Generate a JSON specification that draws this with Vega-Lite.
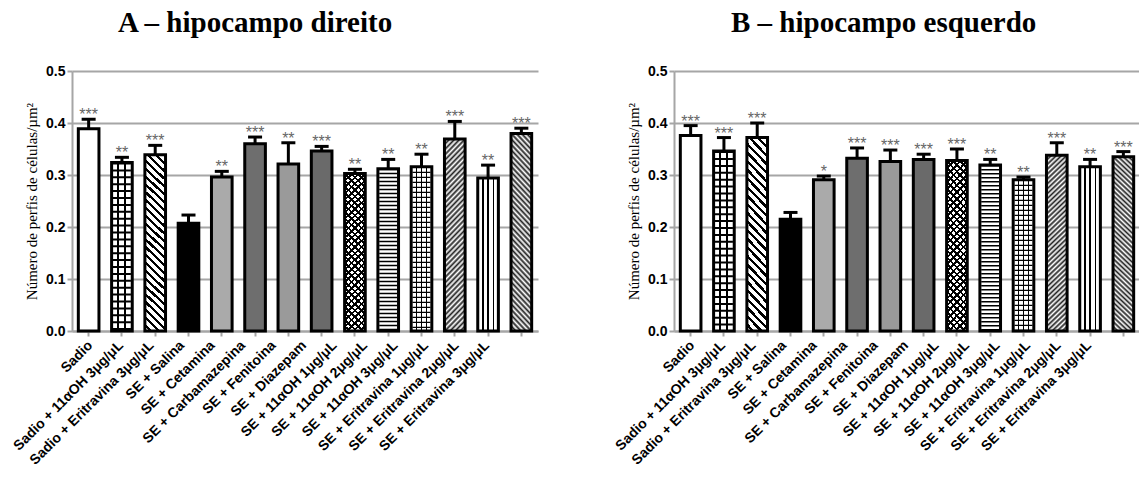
{
"$schema":"https://vega.github.io/schema/vega-lite/v6.json",
"padding":{"left":10,"right":0,"top":9,"bottom":0},
"background":"white",
"data":{"values":[
{"p":"A","g":"Sadio","v":0.389,"hi":0.407,"s":"***"},
{"p":"A","g":"Sadio + 11αOH 3μg/μL","v":0.324,"hi":0.334,"s":"**"},
{"p":"A","g":"Sadio + Eritravina 3μg/μL","v":0.339,"hi":0.357,"s":"***"},
{"p":"A","g":"SE + Salina","v":0.207,"hi":0.223,"s":""},
{"p":"A","g":"SE + Cetamina","v":0.296,"hi":0.307,"s":"**"},
{"p":"A","g":"SE + Carbamazepina","v":0.360,"hi":0.373,"s":"***"},
{"p":"A","g":"SE + Fenitoina","v":0.321,"hi":0.362,"s":"**"},
{"p":"A","g":"SE + Diazepam","v":0.346,"hi":0.355,"s":"***"},
{"p":"A","g":"SE + 11αOH 1μg/μL","v":0.303,"hi":0.311,"s":"**"},
{"p":"A","g":"SE + 11αOH 2μg/μL","v":0.312,"hi":0.330,"s":"**"},
{"p":"A","g":"SE + 11αOH 3μg/μL","v":0.316,"hi":0.340,"s":"**"},
{"p":"A","g":"SE + Eritravina 1μg/μL","v":0.369,"hi":0.403,"s":"***"},
{"p":"A","g":"SE + Eritravina 2μg/μL","v":0.294,"hi":0.319,"s":"**"},
{"p":"A","g":"SE + Eritravina 3μg/μL","v":0.380,"hi":0.390,"s":"***"},
{"p":"B","g":"Sadio","v":0.376,"hi":0.395,"s":"***"},
{"p":"B","g":"Sadio + 11αOH 3μg/μL","v":0.346,"hi":0.372,"s":"***"},
{"p":"B","g":"Sadio + Eritravina 3μg/μL","v":0.372,"hi":0.400,"s":"***"},
{"p":"B","g":"SE + Salina","v":0.215,"hi":0.228,"s":""},
{"p":"B","g":"SE + Cetamina","v":0.291,"hi":0.298,"s":"*"},
{"p":"B","g":"SE + Carbamazepina","v":0.332,"hi":0.352,"s":"***"},
{"p":"B","g":"SE + Fenitoina","v":0.326,"hi":0.348,"s":"***"},
{"p":"B","g":"SE + Diazepam","v":0.330,"hi":0.340,"s":"***"},
{"p":"B","g":"SE + 11αOH 1μg/μL","v":0.328,"hi":0.350,"s":"***"},
{"p":"B","g":"SE + 11αOH 2μg/μL","v":0.319,"hi":0.330,"s":"**"},
{"p":"B","g":"SE + 11αOH 3μg/μL","v":0.291,"hi":0.296,"s":"**"},
{"p":"B","g":"SE + Eritravina 1μg/μL","v":0.338,"hi":0.362,"s":"***"},
{"p":"B","g":"SE + Eritravina 2μg/μL","v":0.316,"hi":0.330,"s":"**"},
{"p":"B","g":"SE + Eritravina 3μg/μL","v":0.335,"hi":0.345,"s":"***"}
]},
"spacing":136,
"bounds":"flush",
"hconcat":[
{"transform":[{"filter":"datum.p === 'A'"}],
"title":{"text":"A – hipocampo direito","dx":46},
"width":466,"height":260,
"encoding":{"x":{"field":"g","type":"nominal","sort":null,"title":null,"scale":{"paddingInner":0.38,"paddingOuter":0.19},"axis":{"labelOffset":{"expr":"-3 - 36*datum.index"}}}},
"layer":[
{"mark":{"type":"bar"},"encoding":{"y":{"field":"v","type":"quantitative","stack":null,"scale":{"domain":[0,0.5],"nice":false},"axis":{"title":"Número de perfis de células/µm²","values":[0,0.1,0.2,0.3,0.4,0.5],"format":".1f","grid":true}},
"color":{"field":"g","type":"nominal","legend":null,"scale":{"domain":["Sadio","Sadio + 11αOH 3μg/μL","Sadio + Eritravina 3μg/μL","SE + Salina","SE + Cetamina","SE + Carbamazepina","SE + Fenitoina","SE + Diazepam","SE + 11αOH 1μg/μL","SE + 11αOH 2μg/μL","SE + 11αOH 3μg/μL","SE + Eritravina 1μg/μL","SE + Eritravina 2μg/μL","SE + Eritravina 3μg/μL"],"range":["#fff","#fff","#fff","#000","#aaaaaa","#6e6e6e","#9a9a9a","#6a6a6a","#fff","#fff","#fff","#fff","#fff","#fff"]}}}},
{"transform":[{"filter":"datum.g === 'Sadio + 11αOH 3μg/μL'"}],"mark":{"type":"bar","style":"gV3"},"encoding":{"y":{"field":"v","type":"quantitative"}}},
{"transform":[{"filter":{"field":"g","oneOf":["SE + 11αOH 3μg/μL","SE + Eritravina 2μg/μL"]}}],"mark":{"type":"bar","style":"gV4"},"encoding":{"y":{"field":"v","type":"quantitative"}}},
{"transform":[{"filter":"datum.g === 'Sadio + Eritravina 3μg/μL'"}],"mark":{"type":"bar","style":"gD"},"encoding":{"y":{"field":"v","type":"quantitative"}}},
{"transform":[{"filter":"datum.g === 'SE + 11αOH 1μg/μL'"}],"mark":{"type":"bar","style":"gX1"},"encoding":{"y":{"field":"v","type":"quantitative"}}},
{"transform":[{"filter":"datum.g === 'SE + 11αOH 1μg/μL'"}],"mark":{"type":"bar","style":"gX2"},"encoding":{"y":{"field":"v","type":"quantitative"}}},
{"transform":[{"filter":"datum.g === 'SE + Eritravina 1μg/μL'"}],"mark":{"type":"bar","style":"gF1"},"encoding":{"y":{"field":"v","type":"quantitative"}}},
{"transform":[{"filter":"datum.g === 'SE + Eritravina 3μg/μL'"}],"mark":{"type":"bar","style":"gF3"},"encoding":{"y":{"field":"v","type":"quantitative"}}},
{"transform":[{"filter":{"field":"g","oneOf":["Sadio + 11αOH 3μg/μL","SE + 11αOH 2μg/μL","SE + 11αOH 3μg/μL"]}}],"mark":{"type":"rule","strokeWidth":18,"color":"#000"},"encoding":{"y":{"field":"v","type":"quantitative"},"y2":{"datum":0},"strokeDash":{"field":"g","type":"nominal","legend":null,"scale":{"domain":["Sadio + 11αOH 3μg/μL","SE + 11αOH 2μg/μL","SE + 11αOH 3μg/μL"],"range":[[2,4.9],[1.5,2.5],[1.2,3.8]]}}}},
{"mark":{"type":"bar","filled":false,"stroke":"#000","strokeWidth":3,"opacity":1},"encoding":{"y":{"field":"v","type":"quantitative"}}},
{"mark":{"type":"rule","strokeWidth":3,"color":"#000"},"encoding":{"y":{"field":"v","type":"quantitative"},"y2":{"field":"hi"}}},
{"mark":{"type":"tick","orient":"horizontal","size":14,"thickness":3,"color":"#000","opacity":1},"encoding":{"y":{"field":"hi","type":"quantitative"}}},
{"mark":{"type":"text","font":"Liberation Sans","fontSize":16,"color":"#666","baseline":"alphabetic","dy":1},"encoding":{"y":{"field":"hi","type":"quantitative"},"text":{"field":"s"}}}
]},
{"transform":[{"filter":"datum.p === 'B'"}],
"title":{"text":"B – hipocampo esquerdo","dx":57},
"width":466,"height":260,
"encoding":{"x":{"field":"g","type":"nominal","sort":null,"title":null,"scale":{"paddingInner":0.38,"paddingOuter":0.19},"axis":{"labelOffset":{"expr":"-3 - 36*datum.index"}}}},
"layer":[
{"mark":{"type":"bar"},"encoding":{"y":{"field":"v","type":"quantitative","stack":null,"scale":{"domain":[0,0.5],"nice":false},"axis":{"title":"Número de perfis de células/µm²","values":[0,0.1,0.2,0.3,0.4,0.5],"format":".1f","grid":true}},
"color":{"field":"g","type":"nominal","legend":null,"scale":{"domain":["Sadio","Sadio + 11αOH 3μg/μL","Sadio + Eritravina 3μg/μL","SE + Salina","SE + Cetamina","SE + Carbamazepina","SE + Fenitoina","SE + Diazepam","SE + 11αOH 1μg/μL","SE + 11αOH 2μg/μL","SE + 11αOH 3μg/μL","SE + Eritravina 1μg/μL","SE + Eritravina 2μg/μL","SE + Eritravina 3μg/μL"],"range":["#fff","#fff","#fff","#000","#aaaaaa","#6e6e6e","#9a9a9a","#6a6a6a","#fff","#fff","#fff","#fff","#fff","#fff"]}}}},
{"transform":[{"filter":"datum.g === 'Sadio + 11αOH 3μg/μL'"}],"mark":{"type":"bar","style":"gV3"},"encoding":{"y":{"field":"v","type":"quantitative"}}},
{"transform":[{"filter":{"field":"g","oneOf":["SE + 11αOH 3μg/μL","SE + Eritravina 2μg/μL"]}}],"mark":{"type":"bar","style":"gV4"},"encoding":{"y":{"field":"v","type":"quantitative"}}},
{"transform":[{"filter":"datum.g === 'Sadio + Eritravina 3μg/μL'"}],"mark":{"type":"bar","style":"gD"},"encoding":{"y":{"field":"v","type":"quantitative"}}},
{"transform":[{"filter":"datum.g === 'SE + 11αOH 1μg/μL'"}],"mark":{"type":"bar","style":"gX1"},"encoding":{"y":{"field":"v","type":"quantitative"}}},
{"transform":[{"filter":"datum.g === 'SE + 11αOH 1μg/μL'"}],"mark":{"type":"bar","style":"gX2"},"encoding":{"y":{"field":"v","type":"quantitative"}}},
{"transform":[{"filter":"datum.g === 'SE + Eritravina 1μg/μL'"}],"mark":{"type":"bar","style":"gF1"},"encoding":{"y":{"field":"v","type":"quantitative"}}},
{"transform":[{"filter":"datum.g === 'SE + Eritravina 3μg/μL'"}],"mark":{"type":"bar","style":"gF3"},"encoding":{"y":{"field":"v","type":"quantitative"}}},
{"transform":[{"filter":{"field":"g","oneOf":["Sadio + 11αOH 3μg/μL","SE + 11αOH 2μg/μL","SE + 11αOH 3μg/μL"]}}],"mark":{"type":"rule","strokeWidth":18,"color":"#000"},"encoding":{"y":{"field":"v","type":"quantitative"},"y2":{"datum":0},"strokeDash":{"field":"g","type":"nominal","legend":null,"scale":{"domain":["Sadio + 11αOH 3μg/μL","SE + 11αOH 2μg/μL","SE + 11αOH 3μg/μL"],"range":[[2,4.9],[1.5,2.5],[1.2,3.8]]}}}},
{"mark":{"type":"bar","filled":false,"stroke":"#000","strokeWidth":3,"opacity":1},"encoding":{"y":{"field":"v","type":"quantitative"}}},
{"mark":{"type":"rule","strokeWidth":3,"color":"#000"},"encoding":{"y":{"field":"v","type":"quantitative"},"y2":{"field":"hi"}}},
{"mark":{"type":"tick","orient":"horizontal","size":14,"thickness":3,"color":"#000","opacity":1},"encoding":{"y":{"field":"hi","type":"quantitative"}}},
{"mark":{"type":"text","font":"Liberation Sans","fontSize":16,"color":"#666","baseline":"alphabetic","dy":1},"encoding":{"y":{"field":"hi","type":"quantitative"},"text":{"field":"s"}}}
]}
],
"config":{
"view":{"stroke":null},
"title":{"font":"Liberation Serif","fontSize":29,"fontWeight":"bold","color":"#000","anchor":"start","frame":"group","baseline":"alphabetic","offset":26},
"axis":{"domainColor":"#a6a6a6","domainWidth":2,"tickColor":"#a6a6a6","tickWidth":2,"tickSize":5,"gridColor":"#a6a6a6","gridWidth":2,"labelFont":"Liberation Sans","labelFontWeight":"bold","labelColor":"#000","titleFont":"Liberation Serif","titleFontWeight":"normal","titleColor":"#000"},
"axisX":{"labelAngle":-45,"labelFontSize":14,"labelLimit":400,"grid":false},
"axisY":{"labelFontSize":14,"titleFontSize":15,"titlePadding":6},
"style":{
"gV3":{"color":{"gradient":"linear","x1":0,"y1":0,"x2":1,"y2":0,"stops":[{"offset":0,"color":"#fff"},{"offset":0.28,"color":"#fff"},{"offset":0.28,"color":"#000"},{"offset":0.38,"color":"#000"},{"offset":0.38,"color":"#fff"},{"offset":0.62,"color":"#fff"},{"offset":0.62,"color":"#000"},{"offset":0.72,"color":"#000"},{"offset":0.72,"color":"#fff"},{"offset":1,"color":"#fff"}]}},
"gV4":{"color":{"gradient":"linear","x1":0,"y1":0,"x2":1,"y2":0,"stops":[{"offset":0,"color":"#fff"},{"offset":0.22,"color":"#fff"},{"offset":0.22,"color":"#000"},{"offset":0.28,"color":"#000"},{"offset":0.28,"color":"#fff"},{"offset":0.47,"color":"#fff"},{"offset":0.47,"color":"#000"},{"offset":0.53,"color":"#000"},{"offset":0.53,"color":"#fff"},{"offset":0.72,"color":"#fff"},{"offset":0.72,"color":"#000"},{"offset":0.78,"color":"#000"},{"offset":0.78,"color":"#fff"},{"offset":1,"color":"#fff"}]}},
"gD":{"color":{"gradient":"linear","x1":1,"y1":0,"x2":0.877,"y2":1.1,"stops":[
{"offset":0,"color":"#000"},{"offset":0.016,"color":"#000"},{"offset":0.016,"color":"#fff"},{"offset":0.04,"color":"#fff"},
{"offset":0.04,"color":"#000"},{"offset":0.056,"color":"#000"},{"offset":0.056,"color":"#fff"},{"offset":0.08,"color":"#fff"},
{"offset":0.08,"color":"#000"},{"offset":0.096,"color":"#000"},{"offset":0.096,"color":"#fff"},{"offset":0.12,"color":"#fff"},
{"offset":0.12,"color":"#000"},{"offset":0.136,"color":"#000"},{"offset":0.136,"color":"#fff"},{"offset":0.16,"color":"#fff"},
{"offset":0.16,"color":"#000"},{"offset":0.176,"color":"#000"},{"offset":0.176,"color":"#fff"},{"offset":0.2,"color":"#fff"},
{"offset":0.2,"color":"#000"},{"offset":0.216,"color":"#000"},{"offset":0.216,"color":"#fff"},{"offset":0.24,"color":"#fff"},
{"offset":0.24,"color":"#000"},{"offset":0.256,"color":"#000"},{"offset":0.256,"color":"#fff"},{"offset":0.28,"color":"#fff"},
{"offset":0.28,"color":"#000"},{"offset":0.296,"color":"#000"},{"offset":0.296,"color":"#fff"},{"offset":0.32,"color":"#fff"},
{"offset":0.32,"color":"#000"},{"offset":0.336,"color":"#000"},{"offset":0.336,"color":"#fff"},{"offset":0.36,"color":"#fff"},
{"offset":0.36,"color":"#000"},{"offset":0.376,"color":"#000"},{"offset":0.376,"color":"#fff"},{"offset":0.4,"color":"#fff"},
{"offset":0.4,"color":"#000"},{"offset":0.416,"color":"#000"},{"offset":0.416,"color":"#fff"},{"offset":0.44,"color":"#fff"},
{"offset":0.44,"color":"#000"},{"offset":0.456,"color":"#000"},{"offset":0.456,"color":"#fff"},{"offset":0.48,"color":"#fff"},
{"offset":0.48,"color":"#000"},{"offset":0.496,"color":"#000"},{"offset":0.496,"color":"#fff"},{"offset":0.52,"color":"#fff"},
{"offset":0.52,"color":"#000"},{"offset":0.536,"color":"#000"},{"offset":0.536,"color":"#fff"},{"offset":0.56,"color":"#fff"},
{"offset":0.56,"color":"#000"},{"offset":0.576,"color":"#000"},{"offset":0.576,"color":"#fff"},{"offset":0.6,"color":"#fff"},
{"offset":0.6,"color":"#000"},{"offset":0.616,"color":"#000"},{"offset":0.616,"color":"#fff"},{"offset":0.64,"color":"#fff"},
{"offset":0.64,"color":"#000"},{"offset":0.656,"color":"#000"},{"offset":0.656,"color":"#fff"},{"offset":0.68,"color":"#fff"},
{"offset":0.68,"color":"#000"},{"offset":0.696,"color":"#000"},{"offset":0.696,"color":"#fff"},{"offset":0.72,"color":"#fff"},
{"offset":0.72,"color":"#000"},{"offset":0.736,"color":"#000"},{"offset":0.736,"color":"#fff"},{"offset":0.76,"color":"#fff"},
{"offset":0.76,"color":"#000"},{"offset":0.776,"color":"#000"},{"offset":0.776,"color":"#fff"},{"offset":0.8,"color":"#fff"},
{"offset":0.8,"color":"#000"},{"offset":0.816,"color":"#000"},{"offset":0.816,"color":"#fff"},{"offset":0.84,"color":"#fff"},
{"offset":0.84,"color":"#000"},{"offset":0.856,"color":"#000"},{"offset":0.856,"color":"#fff"},{"offset":0.88,"color":"#fff"},
{"offset":0.88,"color":"#000"},{"offset":0.896,"color":"#000"},{"offset":0.896,"color":"#fff"},{"offset":0.92,"color":"#fff"},
{"offset":0.92,"color":"#000"},{"offset":0.936,"color":"#000"},{"offset":0.936,"color":"#fff"},{"offset":0.96,"color":"#fff"},
{"offset":0.96,"color":"#000"},{"offset":0.976,"color":"#000"},{"offset":0.976,"color":"#fff"},{"offset":1,"color":"#fff"}]}},
"gX1":{"color":{"gradient":"linear","x1":1,"y1":0,"x2":0.861,"y2":1.1,"stops":[
{"offset":0,"color":"#000"},{"offset":0.014,"color":"#000"},{"offset":0.014,"color":"#fff"},{"offset":0.036,"color":"#fff"},
{"offset":0.036,"color":"#000"},{"offset":0.05,"color":"#000"},{"offset":0.05,"color":"#fff"},{"offset":0.072,"color":"#fff"},
{"offset":0.072,"color":"#000"},{"offset":0.086,"color":"#000"},{"offset":0.086,"color":"#fff"},{"offset":0.108,"color":"#fff"},
{"offset":0.108,"color":"#000"},{"offset":0.122,"color":"#000"},{"offset":0.122,"color":"#fff"},{"offset":0.144,"color":"#fff"},
{"offset":0.144,"color":"#000"},{"offset":0.158,"color":"#000"},{"offset":0.158,"color":"#fff"},{"offset":0.18,"color":"#fff"},
{"offset":0.18,"color":"#000"},{"offset":0.194,"color":"#000"},{"offset":0.194,"color":"#fff"},{"offset":0.216,"color":"#fff"},
{"offset":0.216,"color":"#000"},{"offset":0.23,"color":"#000"},{"offset":0.23,"color":"#fff"},{"offset":0.252,"color":"#fff"},
{"offset":0.252,"color":"#000"},{"offset":0.266,"color":"#000"},{"offset":0.266,"color":"#fff"},{"offset":0.288,"color":"#fff"},
{"offset":0.288,"color":"#000"},{"offset":0.302,"color":"#000"},{"offset":0.302,"color":"#fff"},{"offset":0.324,"color":"#fff"},
{"offset":0.324,"color":"#000"},{"offset":0.338,"color":"#000"},{"offset":0.338,"color":"#fff"},{"offset":0.36,"color":"#fff"},
{"offset":0.36,"color":"#000"},{"offset":0.374,"color":"#000"},{"offset":0.374,"color":"#fff"},{"offset":0.396,"color":"#fff"},
{"offset":0.396,"color":"#000"},{"offset":0.41,"color":"#000"},{"offset":0.41,"color":"#fff"},{"offset":0.432,"color":"#fff"},
{"offset":0.432,"color":"#000"},{"offset":0.446,"color":"#000"},{"offset":0.446,"color":"#fff"},{"offset":0.468,"color":"#fff"},
{"offset":0.468,"color":"#000"},{"offset":0.482,"color":"#000"},{"offset":0.482,"color":"#fff"},{"offset":0.504,"color":"#fff"},
{"offset":0.504,"color":"#000"},{"offset":0.518,"color":"#000"},{"offset":0.518,"color":"#fff"},{"offset":0.54,"color":"#fff"},
{"offset":0.54,"color":"#000"},{"offset":0.554,"color":"#000"},{"offset":0.554,"color":"#fff"},{"offset":0.576,"color":"#fff"},
{"offset":0.576,"color":"#000"},{"offset":0.59,"color":"#000"},{"offset":0.59,"color":"#fff"},{"offset":0.612,"color":"#fff"},
{"offset":0.612,"color":"#000"},{"offset":0.626,"color":"#000"},{"offset":0.626,"color":"#fff"},{"offset":0.648,"color":"#fff"},
{"offset":0.648,"color":"#000"},{"offset":0.662,"color":"#000"},{"offset":0.662,"color":"#fff"},{"offset":0.684,"color":"#fff"},
{"offset":0.684,"color":"#000"},{"offset":0.698,"color":"#000"},{"offset":0.698,"color":"#fff"},{"offset":0.72,"color":"#fff"},
{"offset":0.72,"color":"#000"},{"offset":0.734,"color":"#000"},{"offset":0.734,"color":"#fff"},{"offset":0.756,"color":"#fff"},
{"offset":0.756,"color":"#000"},{"offset":0.77,"color":"#000"},{"offset":0.77,"color":"#fff"},{"offset":0.792,"color":"#fff"},
{"offset":0.792,"color":"#000"},{"offset":0.806,"color":"#000"},{"offset":0.806,"color":"#fff"},{"offset":0.828,"color":"#fff"},
{"offset":0.828,"color":"#000"},{"offset":0.842,"color":"#000"},{"offset":0.842,"color":"#fff"},{"offset":0.864,"color":"#fff"},
{"offset":0.864,"color":"#000"},{"offset":0.878,"color":"#000"},{"offset":0.878,"color":"#fff"},{"offset":0.9,"color":"#fff"},
{"offset":0.9,"color":"#000"},{"offset":0.914,"color":"#000"},{"offset":0.914,"color":"#fff"},{"offset":0.936,"color":"#fff"},
{"offset":0.936,"color":"#000"},{"offset":0.95,"color":"#000"},{"offset":0.95,"color":"#fff"},{"offset":0.972,"color":"#fff"},
{"offset":0.972,"color":"#000"},{"offset":0.986,"color":"#000"},{"offset":0.986,"color":"#fff"},{"offset":1,"color":"#fff"}]}},
"gX2":{"color":{"gradient":"linear","x1":0,"y1":0,"x2":0.139,"y2":1.1,"stops":[
{"offset":0,"color":"#000"},{"offset":0.014,"color":"#000"},{"offset":0.014,"color":"rgba(0,0,0,0)"},{"offset":0.036,"color":"rgba(0,0,0,0)"},
{"offset":0.036,"color":"#000"},{"offset":0.05,"color":"#000"},{"offset":0.05,"color":"rgba(0,0,0,0)"},{"offset":0.072,"color":"rgba(0,0,0,0)"},
{"offset":0.072,"color":"#000"},{"offset":0.086,"color":"#000"},{"offset":0.086,"color":"rgba(0,0,0,0)"},{"offset":0.108,"color":"rgba(0,0,0,0)"},
{"offset":0.108,"color":"#000"},{"offset":0.122,"color":"#000"},{"offset":0.122,"color":"rgba(0,0,0,0)"},{"offset":0.144,"color":"rgba(0,0,0,0)"},
{"offset":0.144,"color":"#000"},{"offset":0.158,"color":"#000"},{"offset":0.158,"color":"rgba(0,0,0,0)"},{"offset":0.18,"color":"rgba(0,0,0,0)"},
{"offset":0.18,"color":"#000"},{"offset":0.194,"color":"#000"},{"offset":0.194,"color":"rgba(0,0,0,0)"},{"offset":0.216,"color":"rgba(0,0,0,0)"},
{"offset":0.216,"color":"#000"},{"offset":0.23,"color":"#000"},{"offset":0.23,"color":"rgba(0,0,0,0)"},{"offset":0.252,"color":"rgba(0,0,0,0)"},
{"offset":0.252,"color":"#000"},{"offset":0.266,"color":"#000"},{"offset":0.266,"color":"rgba(0,0,0,0)"},{"offset":0.288,"color":"rgba(0,0,0,0)"},
{"offset":0.288,"color":"#000"},{"offset":0.302,"color":"#000"},{"offset":0.302,"color":"rgba(0,0,0,0)"},{"offset":0.324,"color":"rgba(0,0,0,0)"},
{"offset":0.324,"color":"#000"},{"offset":0.338,"color":"#000"},{"offset":0.338,"color":"rgba(0,0,0,0)"},{"offset":0.36,"color":"rgba(0,0,0,0)"},
{"offset":0.36,"color":"#000"},{"offset":0.374,"color":"#000"},{"offset":0.374,"color":"rgba(0,0,0,0)"},{"offset":0.396,"color":"rgba(0,0,0,0)"},
{"offset":0.396,"color":"#000"},{"offset":0.41,"color":"#000"},{"offset":0.41,"color":"rgba(0,0,0,0)"},{"offset":0.432,"color":"rgba(0,0,0,0)"},
{"offset":0.432,"color":"#000"},{"offset":0.446,"color":"#000"},{"offset":0.446,"color":"rgba(0,0,0,0)"},{"offset":0.468,"color":"rgba(0,0,0,0)"},
{"offset":0.468,"color":"#000"},{"offset":0.482,"color":"#000"},{"offset":0.482,"color":"rgba(0,0,0,0)"},{"offset":0.504,"color":"rgba(0,0,0,0)"},
{"offset":0.504,"color":"#000"},{"offset":0.518,"color":"#000"},{"offset":0.518,"color":"rgba(0,0,0,0)"},{"offset":0.54,"color":"rgba(0,0,0,0)"},
{"offset":0.54,"color":"#000"},{"offset":0.554,"color":"#000"},{"offset":0.554,"color":"rgba(0,0,0,0)"},{"offset":0.576,"color":"rgba(0,0,0,0)"},
{"offset":0.576,"color":"#000"},{"offset":0.59,"color":"#000"},{"offset":0.59,"color":"rgba(0,0,0,0)"},{"offset":0.612,"color":"rgba(0,0,0,0)"},
{"offset":0.612,"color":"#000"},{"offset":0.626,"color":"#000"},{"offset":0.626,"color":"rgba(0,0,0,0)"},{"offset":0.648,"color":"rgba(0,0,0,0)"},
{"offset":0.648,"color":"#000"},{"offset":0.662,"color":"#000"},{"offset":0.662,"color":"rgba(0,0,0,0)"},{"offset":0.684,"color":"rgba(0,0,0,0)"},
{"offset":0.684,"color":"#000"},{"offset":0.698,"color":"#000"},{"offset":0.698,"color":"rgba(0,0,0,0)"},{"offset":0.72,"color":"rgba(0,0,0,0)"},
{"offset":0.72,"color":"#000"},{"offset":0.734,"color":"#000"},{"offset":0.734,"color":"rgba(0,0,0,0)"},{"offset":0.756,"color":"rgba(0,0,0,0)"},
{"offset":0.756,"color":"#000"},{"offset":0.77,"color":"#000"},{"offset":0.77,"color":"rgba(0,0,0,0)"},{"offset":0.792,"color":"rgba(0,0,0,0)"},
{"offset":0.792,"color":"#000"},{"offset":0.806,"color":"#000"},{"offset":0.806,"color":"rgba(0,0,0,0)"},{"offset":0.828,"color":"rgba(0,0,0,0)"},
{"offset":0.828,"color":"#000"},{"offset":0.842,"color":"#000"},{"offset":0.842,"color":"rgba(0,0,0,0)"},{"offset":0.864,"color":"rgba(0,0,0,0)"},
{"offset":0.864,"color":"#000"},{"offset":0.878,"color":"#000"},{"offset":0.878,"color":"rgba(0,0,0,0)"},{"offset":0.9,"color":"rgba(0,0,0,0)"},
{"offset":0.9,"color":"#000"},{"offset":0.914,"color":"#000"},{"offset":0.914,"color":"rgba(0,0,0,0)"},{"offset":0.936,"color":"rgba(0,0,0,0)"},
{"offset":0.936,"color":"#000"},{"offset":0.95,"color":"#000"},{"offset":0.95,"color":"rgba(0,0,0,0)"},{"offset":0.972,"color":"rgba(0,0,0,0)"},
{"offset":0.972,"color":"#000"},{"offset":0.986,"color":"#000"},{"offset":0.986,"color":"rgba(0,0,0,0)"},{"offset":1,"color":"rgba(0,0,0,0)"}]}},
"gF1":{"color":{"gradient":"linear","x1":0,"y1":0,"x2":0.123,"y2":1.1,"stops":[
{"offset":0,"color":"#222"},{"offset":0.0125,"color":"#fff"},{"offset":0.025,"color":"#222"},{"offset":0.0375,"color":"#fff"},{"offset":0.05,"color":"#222"},{"offset":0.0625,"color":"#fff"},{"offset":0.075,"color":"#222"},{"offset":0.0875,"color":"#fff"},{"offset":0.1,"color":"#222"},{"offset":0.1125,"color":"#fff"},
{"offset":0.125,"color":"#222"},{"offset":0.1375,"color":"#fff"},{"offset":0.15,"color":"#222"},{"offset":0.1625,"color":"#fff"},{"offset":0.175,"color":"#222"},{"offset":0.1875,"color":"#fff"},{"offset":0.2,"color":"#222"},{"offset":0.2125,"color":"#fff"},{"offset":0.225,"color":"#222"},{"offset":0.2375,"color":"#fff"},
{"offset":0.25,"color":"#222"},{"offset":0.2625,"color":"#fff"},{"offset":0.275,"color":"#222"},{"offset":0.2875,"color":"#fff"},{"offset":0.3,"color":"#222"},{"offset":0.3125,"color":"#fff"},{"offset":0.325,"color":"#222"},{"offset":0.3375,"color":"#fff"},{"offset":0.35,"color":"#222"},{"offset":0.3625,"color":"#fff"},
{"offset":0.375,"color":"#222"},{"offset":0.3875,"color":"#fff"},{"offset":0.4,"color":"#222"},{"offset":0.4125,"color":"#fff"},{"offset":0.425,"color":"#222"},{"offset":0.4375,"color":"#fff"},{"offset":0.45,"color":"#222"},{"offset":0.4625,"color":"#fff"},{"offset":0.475,"color":"#222"},{"offset":0.4875,"color":"#fff"},
{"offset":0.5,"color":"#222"},{"offset":0.5125,"color":"#fff"},{"offset":0.525,"color":"#222"},{"offset":0.5375,"color":"#fff"},{"offset":0.55,"color":"#222"},{"offset":0.5625,"color":"#fff"},{"offset":0.575,"color":"#222"},{"offset":0.5875,"color":"#fff"},{"offset":0.6,"color":"#222"},{"offset":0.6125,"color":"#fff"},
{"offset":0.625,"color":"#222"},{"offset":0.6375,"color":"#fff"},{"offset":0.65,"color":"#222"},{"offset":0.6625,"color":"#fff"},{"offset":0.675,"color":"#222"},{"offset":0.6875,"color":"#fff"},{"offset":0.7,"color":"#222"},{"offset":0.7125,"color":"#fff"},{"offset":0.725,"color":"#222"},{"offset":0.7375,"color":"#fff"},
{"offset":0.75,"color":"#222"},{"offset":0.7625,"color":"#fff"},{"offset":0.775,"color":"#222"},{"offset":0.7875,"color":"#fff"},{"offset":0.8,"color":"#222"},{"offset":0.8125,"color":"#fff"},{"offset":0.825,"color":"#222"},{"offset":0.8375,"color":"#fff"},{"offset":0.85,"color":"#222"},{"offset":0.8625,"color":"#fff"},
{"offset":0.875,"color":"#222"},{"offset":0.8875,"color":"#fff"},{"offset":0.9,"color":"#222"},{"offset":0.9125,"color":"#fff"},{"offset":0.925,"color":"#222"},{"offset":0.9375,"color":"#fff"},{"offset":0.95,"color":"#222"},{"offset":0.9625,"color":"#fff"},{"offset":0.975,"color":"#222"},{"offset":0.9875,"color":"#fff"},{"offset":1,"color":"#222"}]}},
"gF3":{"color":{"gradient":"linear","x1":1,"y1":0,"x2":0.877,"y2":1.1,"stops":[
{"offset":0,"color":"#222"},{"offset":0.0125,"color":"#fff"},{"offset":0.025,"color":"#222"},{"offset":0.0375,"color":"#fff"},{"offset":0.05,"color":"#222"},{"offset":0.0625,"color":"#fff"},{"offset":0.075,"color":"#222"},{"offset":0.0875,"color":"#fff"},{"offset":0.1,"color":"#222"},{"offset":0.1125,"color":"#fff"},
{"offset":0.125,"color":"#222"},{"offset":0.1375,"color":"#fff"},{"offset":0.15,"color":"#222"},{"offset":0.1625,"color":"#fff"},{"offset":0.175,"color":"#222"},{"offset":0.1875,"color":"#fff"},{"offset":0.2,"color":"#222"},{"offset":0.2125,"color":"#fff"},{"offset":0.225,"color":"#222"},{"offset":0.2375,"color":"#fff"},
{"offset":0.25,"color":"#222"},{"offset":0.2625,"color":"#fff"},{"offset":0.275,"color":"#222"},{"offset":0.2875,"color":"#fff"},{"offset":0.3,"color":"#222"},{"offset":0.3125,"color":"#fff"},{"offset":0.325,"color":"#222"},{"offset":0.3375,"color":"#fff"},{"offset":0.35,"color":"#222"},{"offset":0.3625,"color":"#fff"},
{"offset":0.375,"color":"#222"},{"offset":0.3875,"color":"#fff"},{"offset":0.4,"color":"#222"},{"offset":0.4125,"color":"#fff"},{"offset":0.425,"color":"#222"},{"offset":0.4375,"color":"#fff"},{"offset":0.45,"color":"#222"},{"offset":0.4625,"color":"#fff"},{"offset":0.475,"color":"#222"},{"offset":0.4875,"color":"#fff"},
{"offset":0.5,"color":"#222"},{"offset":0.5125,"color":"#fff"},{"offset":0.525,"color":"#222"},{"offset":0.5375,"color":"#fff"},{"offset":0.55,"color":"#222"},{"offset":0.5625,"color":"#fff"},{"offset":0.575,"color":"#222"},{"offset":0.5875,"color":"#fff"},{"offset":0.6,"color":"#222"},{"offset":0.6125,"color":"#fff"},
{"offset":0.625,"color":"#222"},{"offset":0.6375,"color":"#fff"},{"offset":0.65,"color":"#222"},{"offset":0.6625,"color":"#fff"},{"offset":0.675,"color":"#222"},{"offset":0.6875,"color":"#fff"},{"offset":0.7,"color":"#222"},{"offset":0.7125,"color":"#fff"},{"offset":0.725,"color":"#222"},{"offset":0.7375,"color":"#fff"},
{"offset":0.75,"color":"#222"},{"offset":0.7625,"color":"#fff"},{"offset":0.775,"color":"#222"},{"offset":0.7875,"color":"#fff"},{"offset":0.8,"color":"#222"},{"offset":0.8125,"color":"#fff"},{"offset":0.825,"color":"#222"},{"offset":0.8375,"color":"#fff"},{"offset":0.85,"color":"#222"},{"offset":0.8625,"color":"#fff"},
{"offset":0.875,"color":"#222"},{"offset":0.8875,"color":"#fff"},{"offset":0.9,"color":"#222"},{"offset":0.9125,"color":"#fff"},{"offset":0.925,"color":"#222"},{"offset":0.9375,"color":"#fff"},{"offset":0.95,"color":"#222"},{"offset":0.9625,"color":"#fff"},{"offset":0.975,"color":"#222"},{"offset":0.9875,"color":"#fff"},{"offset":1,"color":"#222"}]}}
}
}
}
